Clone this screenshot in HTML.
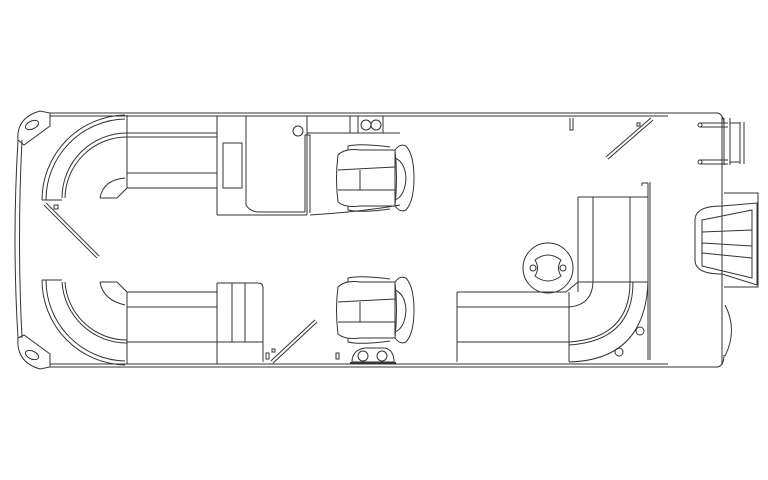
<!DOCTYPE html>
<html><head><meta charset="utf-8"><style>html,body{margin:0;padding:0;background:#fff}svg{display:block}</style></head>
<body>
<svg width="768" height="480" viewBox="0 0 768 480" xmlns="http://www.w3.org/2000/svg" fill="none" stroke="#333" stroke-width="1">
<!-- hull outline -->
<path d="M50,113 L668,113 M50,116 L668,116 M668,113 L718,113 M50,364 L668,364 M50,367 L668,367 M668,367 L718,367"/>
<path d="M18,140 Q12,240 18,338 M22,140 Q17,240 22,338"/>
<path d="M18,140 Q16,118 40,111 L50,113 L50,126 L24,145 Z"/>
<path d="M18,338 Q16,362 40,369 L50,367 L50,354 L24,335 Z"/>
<ellipse cx="32" cy="125" rx="7" ry="4" transform="rotate(-25 32 125)"/>
<ellipse cx="32" cy="355" rx="7" ry="4" transform="rotate(25 32 355)"/>
<!-- transom -->
<path d="M722,116 L722,365 M718,113 Q724,115 724,125 M718,367 Q724,365 724,355"/>
<!-- front left lounge -->
<path d="M42,200 A85,85 0 0 1 125,115 M46,200 A81,81 0 0 1 125,119"/>
<path d="M62,198 A65,65 0 0 1 127,133 M65,198 A62,62 0 0 1 127,137"/>
<path d="M127,115 L127,188 M127,133 L217,133 M127,137 L217,137 M127,173 L217,173 M127,188 L217,188"/>
<path d="M100,198 Q103,180 125,178 M100,198 L117,198 L127,188"/>
<path d="M42,200 L62,200"/>
<line x1="45" y1="204" x2="98" y2="257" stroke-width="4" stroke="#333"/>
<line x1="45" y1="204" x2="98" y2="257" stroke-width="2" stroke="#fff"/>
<rect x="54" y="205" width="4" height="4"/>
<!-- rear left lounge -->
<path d="M42,280 A85,85 0 0 0 125,365 M46,280 A81,81 0 0 0 125,361"/>
<path d="M62,282 A65,65 0 0 0 127,343 M65,282 A62,62 0 0 0 127,340"/>
<path d="M127,292 L127,364 M127,292 L217,292 M127,307 L217,307 M127,342 L263,342"/>
<path d="M100,282 Q103,300 125,305 M100,282 L117,282 L127,292"/>
<path d="M42,280 L62,280"/>
<path d="M217,283 L258,283 Q263,283 263,288 L263,362 M217,283 L217,364 M232,283 L232,342 M245,283 L245,342"/>
<line x1="272" y1="362" x2="316" y2="321" stroke-width="4" stroke="#333"/>
<line x1="272" y1="362" x2="316" y2="321" stroke-width="2" stroke="#fff"/>
<rect x="266" y="353" width="3" height="6"/><rect x="272" y="349" width="3" height="3"/>
<rect x="336" y="353" width="3" height="6"/>
<path d="M352,362 Q352,350 365,348 L385,348 Q394,350 394,362 Z"/>
<circle cx="363" cy="356" r="5"/><circle cx="382" cy="356" r="5"/>
<line x1="350" y1="363" x2="396" y2="363" stroke-width="2"/>
<!-- console -->
<path d="M217,116 L217,215 M217,215 L307,215 M246,116 L246,205 Q250,212 260,212 L305,212 M307,116 L307,215"/>
<rect x="223" y="143" width="19" height="45"/>
<circle cx="298" cy="131" r="5"/>
<path d="M307,133 L400,133 M350,116 L350,133 M358,116 L358,133 M383,116 L383,133"/>
<circle cx="366" cy="125" r="5"/><circle cx="376" cy="125" r="5"/>
<path d="M305,135 L310,135 L310,213 M305,135 L305,212"/>
<path d="M310,215 Q360,212 400,205"/>
<!-- helm seats -->
<g id="seat">
<path d="M338,155 Q335,178 338,202 Q345,208 360,206 L395,206 Q398,178 395,150 L360,150 Q345,148 338,155 Z"/>
<path d="M348,150 L348,146 Q360,143 390,147 M348,206 L348,210 Q360,213 390,209 M338,170 L395,167 M338,190 L395,190 M360,170 L360,190"/>
<path d="M395,150 Q400,143 406,146 Q414,155 414,178 Q414,201 406,210 Q400,213 395,206 Z M395,158 Q405,162 406,178 Q405,196 395,200"/>
</g>
<use href="#seat" transform="translate(0,132)"/>
<!-- top deck items -->
<path d="M570,118 L570,130 L573,130 L573,118"/>
<line x1="607" y1="158" x2="652" y2="119" stroke-width="4" stroke="#333"/>
<line x1="607" y1="158" x2="652" y2="119" stroke-width="2" stroke="#fff"/>
<rect x="637" y="123" width="3" height="3"/>
<!-- ladder -->
<path d="M700,123 L728,123 M700,127 L728,127 M700,160 L728,160 M700,164 L728,164 M724,118 L724,165 M730,118 L730,165 M740,122 L740,164 M744,122 L744,164 M730,123 L740,123 M730,162 L740,162"/>
<circle cx="700" cy="125" r="2"/><circle cx="700" cy="162" r="2"/>
<!-- swim platform -->
<path d="M724,193 L758,193 L758,287 L724,287"/>
<path d="M722,206 Q695,206 695,220 L695,260 Q695,274 722,274 L757,285 L757,203 Z"/>
<path d="M702,220 L752,210 L752,278 L702,266 Z M702,232 L752,230 M702,243 L752,246 M702,253 L752,258"/>
<path d="M725,305 Q738,330 725,356"/>
<!-- right L lounge -->
<path d="M642,183 L648,183 M642,183 L642,186 M648,183 L648,360 M650,182 L650,360"/>
<path d="M578,197 L648,197 M578,197 L578,292 M593,197 L593,282 M630,197 L630,282"/>
<path d="M457,292 L457,362 M457,292 L566,292 L578,282 L648,282 M457,307 L569,307 M457,342 L569,342 M569,292 L569,362"/>
<path d="M593,282 Q592,305 569,307 M630,282 Q630,338 569,342 M633,282 Q633,341 569,345 M648,282 Q645,360 569,362"/>
<circle cx="640" cy="331" r="4"/><circle cx="619" cy="352" r="4"/>
<circle cx="548" cy="268" r="25"/>
<path d="M535,260 Q548,250 561,260 Q556,268 561,276 Q548,286 535,276 Q540,268 535,260 Z"/>
<circle cx="533" cy="268" r="3"/><circle cx="563" cy="268" r="3"/>
</svg>
</body></html>
